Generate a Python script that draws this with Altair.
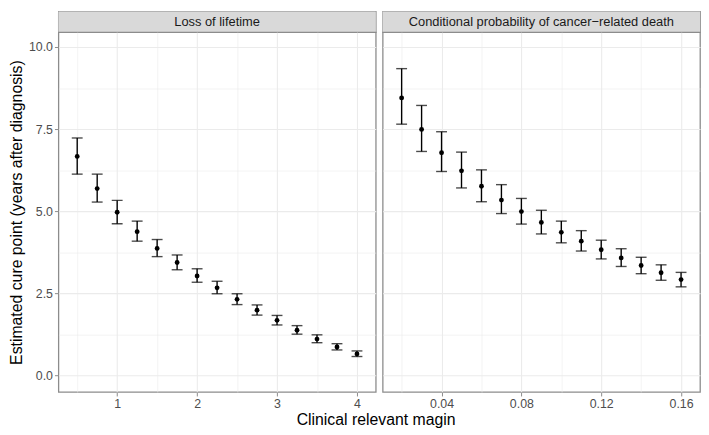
import altair as alt
import pandas as pd

# ---- data ----
lol_margin = [0.5, 0.75, 1.0, 1.25, 1.5, 1.75, 2.0, 2.25, 2.5, 2.75, 3.0, 3.25, 3.5, 3.75, 4.0]
lol_est = [6.67, 5.69, 4.97, 4.38, 3.87, 3.44, 3.03, 2.67, 2.32, 1.99, 1.68, 1.38, 1.11, 0.87, 0.66]
lol_lo = [6.13, 5.28, 4.62, 4.09, 3.62, 3.22, 2.84, 2.49, 2.16, 1.84, 1.54, 1.26, 1.00, 0.78, 0.58]
lol_hi = [7.23, 6.13, 5.33, 4.70, 4.14, 3.67, 3.25, 2.87, 2.49, 2.15, 1.83, 1.52, 1.24, 0.97, 0.75]

cp_margin = [0.02, 0.03, 0.04, 0.05, 0.06, 0.07, 0.08, 0.09, 0.10, 0.11, 0.12, 0.13, 0.14, 0.15, 0.16]
cp_est = [8.45, 7.49, 6.78, 6.23, 5.76, 5.34, 4.99, 4.66, 4.36, 4.09, 3.83, 3.58, 3.35, 3.13, 2.92]
cp_lo = [7.65, 6.82, 6.21, 5.71, 5.29, 4.93, 4.61, 4.31, 4.04, 3.79, 3.55, 3.32, 3.10, 2.90, 2.70]
cp_hi = [9.34, 8.22, 7.42, 6.80, 6.26, 5.81, 5.39, 5.03, 4.70, 4.41, 4.12, 3.86, 3.60, 3.37, 3.14]

panel_titles = ["Loss of lifetime", "Conditional probability of cancer\u2212related death"]
y_ticks = [0, 1.25, 2.5, 3.75, 5, 6.25, 7.5, 8.75, 10]
lol_ticks = [0.5, 1, 1.5, 2, 2.5, 3, 3.5, 4]
cp_ticks = [0.02, 0.04, 0.06, 0.08, 0.10, 0.12, 0.14, 0.16]

FONT = "Liberation Sans"
W, H, STRIP = 321, 364, 21
BORDER = "#8c8c8c"
GRID = "#EBEBEB"

lol_df = pd.DataFrame({"m": lol_margin, "est": lol_est, "lo": lol_lo, "hi": lol_hi})
cp_df = pd.DataFrame({"m": cp_margin, "est": cp_est, "lo": cp_lo, "hi": cp_hi})

y_major = "abs(datum.value/2.5 - round(datum.value/2.5)) < 0.001"
YDOM = [-0.5, 10.45]


def panel(df, xdomain, xticks, major_test, label_fmt, show_y):
    xaxis = alt.Axis(
        values=xticks, title=None, domain=False,
        labelExpr=f"({major_test}) ? format(datum.value, '{label_fmt}') : ''",
        labelFont=FONT, labelFontSize=12.5, labelColor="#4D4D4D", labelPadding=2,
        tickColor=BORDER, tickSize=4, tickWidth=1,
        tickOpacity={"condition": {"test": major_test, "value": 1}, "value": 0},
        gridColor=GRID,
        gridWidth={"condition": {"test": major_test, "value": 1.1}, "value": 0.6},
    )
    if show_y:
        yaxis = alt.Axis(
            values=y_ticks, domain=False,
            title="Estimated cure point (years after diagnosis)",
            titleFont=FONT, titleFontSize=16, titleFontWeight="normal", titleColor="black",
            titlePadding=4,
            labelExpr=f"({y_major}) ? format(datum.value, '.1f') : ''",
            labelFont=FONT, labelFontSize=12.5, labelColor="#4D4D4D", labelPadding=2,
            tickColor=BORDER, tickSize=4, tickWidth=1,
            tickOpacity={"condition": {"test": y_major, "value": 1}, "value": 0},
            gridColor=GRID,
            gridWidth={"condition": {"test": y_major, "value": 1.1}, "value": 0.6},
        )
    else:
        yaxis = alt.Axis(
            values=y_ticks, domain=False, title=None, labels=False, ticks=False,
            gridColor=GRID,
            gridWidth={"condition": {"test": y_major, "value": 1.1}, "value": 0.6},
        )
    x = alt.X("m:Q", scale=alt.Scale(domain=xdomain, nice=False, zero=False), axis=xaxis)
    base = alt.Chart(df)
    rule = base.mark_rule(color="black", strokeWidth=1.4).encode(
        x=x, y=alt.Y("lo:Q", scale=alt.Scale(domain=YDOM, nice=False, zero=False), axis=yaxis),
        y2="hi:Q")
    tick_lo = base.mark_tick(color="black", orient="horizontal", size=11, thickness=1.4).encode(
        x="m:Q", y="lo:Q")
    tick_hi = base.mark_tick(color="black", orient="horizontal", size=11, thickness=1.4).encode(
        x="m:Q", y="hi:Q")
    pts = base.mark_circle(color="black", size=24, opacity=1).encode(x="m:Q", y="est:Q")
    return alt.layer(rule, tick_lo, tick_hi, pts).properties(width=W, height=H)


def strip(title):
    d = pd.DataFrame({"t": [title]})
    bg = alt.Chart(d).mark_rect(fill="#D9D9D9").encode(
        x=alt.value(0), x2=alt.value(W), y=alt.value(0), y2=alt.value(STRIP))
    txt = alt.Chart(d).mark_text(font=FONT, fontSize=13, color="#1A1A1A").encode(
        x=alt.value(W / 2), y=alt.value(STRIP / 2 + 0.5), text="t:N")
    return alt.layer(bg, txt).properties(width=W, height=STRIP)


left = alt.vconcat(
    strip(panel_titles[0]),
    panel(lol_df, [0.265, 4.235], lol_ticks, "abs(datum.value - round(datum.value)) < 0.001", "d", True),
    spacing=0, bounds="flush",
)
right = alt.vconcat(
    strip(panel_titles[1]),
    panel(cp_df, [0.0105, 0.1695], cp_ticks,
          "abs(datum.value*25 - round(datum.value*25)) < 0.001", ".2f", False),
    spacing=0, bounds="flush",
)

chart = alt.hconcat(left, right, spacing=5).properties(
    padding=0,
    title=alt.TitleParams(
        "Clinical relevant magin", orient="bottom", anchor="middle",
        font=FONT, fontSize=16, fontWeight="normal", color="black", offset=1, dx=22,
    ),
).configure_view(stroke=BORDER, strokeWidth=1.3)

chart.save("out.html", embed_options={"renderer": "svg", "actions": False})
